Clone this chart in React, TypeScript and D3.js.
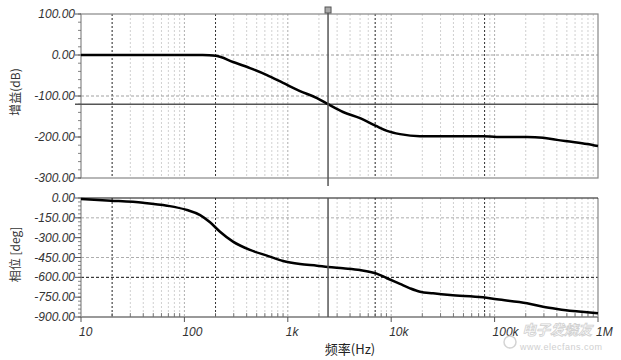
import React from "react";
import * as d3 from "d3";

const W = 621;
const H = 360;

// Gain curve (dB) vs frequency (Hz)
const gainFreq = [10, 50, 100, 150, 202, 295, 431, 629, 899, 1312, 1916, 2448, 3420, 4993, 7130, 9100, 12160, 19000, 25400, 77200, 105000, 206000, 294000, 401000, 573000, 783000, 1000000];
const gainDb = [0, 0, 0, 0, -2, -17, -32, -49, -68, -88, -105, -120, -139, -154, -173, -185, -193, -198, -198, -198, -200, -200, -202, -207, -212, -217, -222];

// Phase curve (deg) vs frequency (Hz)
const phaseFreq = [10, 19.5, 39.8, 68, 106, 142, 177, 221, 295, 431, 629, 899, 1312, 1916, 2448, 3420, 4993, 7130, 9100, 12160, 15200, 19000, 25400, 37100, 77200, 105000, 206000, 294000, 401000, 573000, 783000, 1000000];
const phaseDeg = [-8, -20, -36, -58, -91, -129, -184, -255, -330, -393, -436, -476, -499, -512, -522, -532, -545, -570, -607, -650, -683, -709, -721, -734, -751, -766, -796, -822, -839, -855, -864, -872];

const gainTicks = [100, 0, -100, -200, -300];
const gainTickLabels = ["100.00", "0.00", "-100.00", "-200.00", "-300.00"];
const phaseTicks = [0, -150, -300, -450, -600, -750, -900];
const phaseTickLabels = ["0.00", "-150.00", "-300.00", "-450.00", "-600.00", "-750.00", "-900.00"];
const freqTicks = [10, 100, 1000, 10000, 100000, 1000000];
const freqTickLabels = ["10", "100", "1k", "10k", "100k", "1M"];

const gainGrid = [0, -100];
const phaseGridLight = [-150, -450];
const phaseGridDark = [-600];
const darkVGrid = [20, 200, 7000, 80000];
const cursorFreq = 2450;
const cursorGain = -120;

export default function App() {
  const x = d3.scaleLog().domain([10, 1e6]).range([81, 598]);
  const yG = d3.scaleLinear().domain([-300, 100]).range([178, 14]);
  const yP = d3.scaleLinear().domain([-900, 0]).range([317, 198]);

  const minorF: number[] = [];
  for (let dec = 10; dec < 1e6; dec *= 10) {
    for (let m = 2; m <= 9; m++) minorF.push(dec * m);
  }

  const gainLine = d3
    .line<number>()
    .x((_, i) => x(gainFreq[i]))
    .y((d) => yG(d))
    .curve(d3.curveMonotoneX)(gainDb) as string;
  const phaseLine = d3
    .line<number>()
    .x((_, i) => x(phaseFreq[i]))
    .y((d) => yP(d))
    .curve(d3.curveMonotoneX)(phaseDeg) as string;

  const gainMinor = d3.range(-300, 101, 20);
  const phaseMinor = d3.range(-900, 1, 30);

  const labelFont = "Liberation Sans, Arial, sans-serif";
  const cjkFont = "Noto Sans CJK SC, sans-serif";

  const vGrid = (y0: number, y1: number, key: string) => (
    <g key={key}>
      {minorF.map((f) => (
        <line key={"m" + f} x1={x(f)} x2={x(f)} y1={y0} y2={y1} stroke="#c4c4c4" strokeWidth={0.8} strokeDasharray="2,2" />
      ))}
      {freqTicks.slice(1, -1).map((f) => (
        <line key={"M" + f} x1={x(f)} x2={x(f)} y1={y0} y2={y1} stroke="#999" strokeWidth={0.8} strokeDasharray="2,2" />
      ))}
      {darkVGrid.map((f) => (
        <line key={"d" + f} x1={x(f)} x2={x(f)} y1={y0} y2={y1} stroke="#222" strokeWidth={0.9} strokeDasharray="2,2" />
      ))}
    </g>
  );

  return (
    <svg width={W} height={H} style={{ position: "absolute", left: 0, top: 0, background: "#fff" }}>
      <rect x={0} y={0} width={W} height={H} fill="#fff" />

      {/* ---------- Top plot (gain) ---------- */}
      {vGrid(14, 178, "vg1")}
      {gainGrid.map((g) => (
        <line key={g} x1={81} x2={598} y1={yG(g)} y2={yG(g)} stroke="#888" strokeWidth={0.8} strokeDasharray="3,2" />
      ))}
      <rect x={81} y={14} width={517} height={164} fill="none" stroke="#888" strokeWidth={1.2} />
      {gainMinor.map((g) => (
        <line key={"gm" + g} x1={78} x2={81} y1={yG(g)} y2={yG(g)} stroke="#666" strokeWidth={0.8} />
      ))}
      {gainTicks.map((g, i) => (
        <g key={"gt" + g}>
          <line x1={75} x2={81} y1={yG(g)} y2={yG(g)} stroke="#555" strokeWidth={1} />
          <text x={75} y={yG(g) + 4} textAnchor="end" fontSize={12} fontStyle="italic" fontFamily={labelFont} fill="#333">
            {gainTickLabels[i]}
          </text>
        </g>
      ))}
      <line x1={75} x2={598} y1={yG(cursorGain)} y2={yG(cursorGain)} stroke="#555" strokeWidth={1.5} />
      <path d={gainLine} fill="none" stroke="#000" strokeWidth={2.5} />
      <text
        transform={`translate(20,${(14 + 178) / 2 - 4}) rotate(-90)`}
        textAnchor="middle"
        fontSize={12}
        fontFamily={cjkFont}
        fill="#333"
      >
        增益(dB)
      </text>

      {/* ---------- Bottom plot (phase) ---------- */}
      {vGrid(198, 317, "vg2")}
      {phaseGridLight.map((p) => (
        <line key={p} x1={81} x2={598} y1={yP(p)} y2={yP(p)} stroke="#999" strokeWidth={0.8} strokeDasharray="3,2" />
      ))}
      {phaseGridDark.map((p) => (
        <line key={p} x1={81} x2={598} y1={yP(p)} y2={yP(p)} stroke="#111" strokeWidth={1} strokeDasharray="3,2" />
      ))}
      <line x1={598} x2={598} y1={198} y2={317} stroke="#888" strokeWidth={1.2} />
      <line x1={81} x2={81} y1={198} y2={317} stroke="#888" strokeWidth={1.2} />
      <line x1={81} x2={598} y1={198} y2={198} stroke="#111" strokeWidth={1.2} />
      <line x1={81} x2={598} y1={317} y2={317} stroke="#999" strokeWidth={2} />
      {phaseMinor.map((p) => (
        <line key={"pm" + p} x1={78} x2={81} y1={yP(p)} y2={yP(p)} stroke="#666" strokeWidth={0.8} />
      ))}
      {phaseTicks.map((p, i) => (
        <g key={"pt" + p}>
          <line x1={75} x2={81} y1={yP(p)} y2={yP(p)} stroke="#555" strokeWidth={1} />
          <text x={75} y={yP(p) + 4} textAnchor="end" fontSize={12} fontStyle="italic" fontFamily={labelFont} fill="#333">
            {phaseTickLabels[i]}
          </text>
        </g>
      ))}
      {minorF.map((f) => (
        <line key={"xm" + f} x1={x(f)} x2={x(f)} y1={313} y2={317} stroke="#666" strokeWidth={0.8} />
      ))}
      {freqTicks.map((f, i) => (
        <g key={"xt" + f}>
          <line x1={x(f)} x2={x(f)} y1={317} y2={322} stroke="#555" strokeWidth={1} />
          <text x={x(f) - 2} y={336} textAnchor="start" fontSize={12} fontStyle="italic" fontFamily={labelFont} fill="#333">
            {freqTickLabels[i]}
          </text>
        </g>
      ))}
      <path d={phaseLine} fill="none" stroke="#000" strokeWidth={2.5} />
      <text
        transform={`translate(20,${(198 + 317) / 2 - 3}) rotate(-90)`}
        textAnchor="middle"
        fontSize={12}
        fontFamily={cjkFont}
        fill="#333"
      >
        相位 [deg]
      </text>
      <text x={350} y={354} textAnchor="middle" fontSize={13} fontFamily={cjkFont} fill="#222">
        频率(Hz)
      </text>

      {/* ---------- Cursor ---------- */}
      <line x1={x(cursorFreq)} x2={x(cursorFreq)} y1={10} y2={186} stroke="#555" strokeWidth={1.5} />
      <line x1={x(cursorFreq)} x2={x(cursorFreq)} y1={198} y2={317} stroke="#555" strokeWidth={1.5} />
      <rect x={x(cursorFreq) - 3} y={7} width={6} height={6} fill="#aaa" stroke="#555" strokeWidth={1} />

      {/* ---------- Watermark ---------- */}
      <g opacity={0.85}>
        <circle cx={510} cy={342} r={6} fill="none" stroke="#ccc" strokeWidth={1.5} />
        <text x={522} y={335} fontSize={14} fontStyle="italic" fontWeight="bold" fontFamily={cjkFont} fill="#fff" stroke="#c8c8c8" strokeWidth={0.8}>
          电子发烧友
        </text>
        <text x={520} y={350} fontSize={9} fontFamily={labelFont} fill="#c8c8c8" letterSpacing={0.5}>
          www.elecfans.com
        </text>
      </g>
    </svg>
  );
}
